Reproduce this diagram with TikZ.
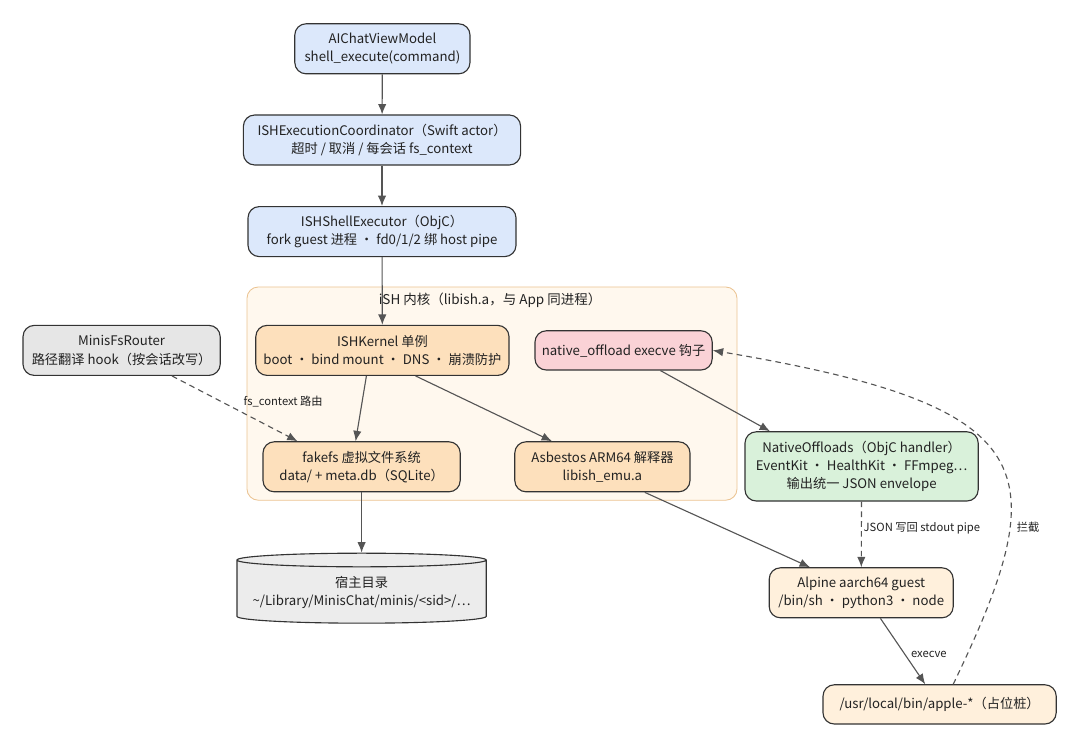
\documentclass[tikz,border=0pt]{standalone}
\usepackage{fontspec}
\setmainfont{Noto Sans CJK SC}
\usetikzlibrary{arrows.meta,positioning,calc,shapes.geometric,backgrounds}
\definecolor{ishBlue}{HTML}{DCE8FB}
\definecolor{ishCore}{HTML}{FDE0BC}
\definecolor{ishGuest}{HTML}{FFF0DC}
\definecolor{ishPink}{HTML}{FAD2D6}
\definecolor{ishGreen}{HTML}{D9F1DA}
\definecolor{ishGray}{HTML}{E6E6E6}
\definecolor{ishDisk}{HTML}{ECECEC}
\definecolor{ishBand}{HTML}{FFF8EE}
\definecolor{ishBandLine}{HTML}{EBC391}
\definecolor{ishLine}{HTML}{555555}
\definecolor{ishBorder}{HTML}{333333}
\definecolor{ishText}{HTML}{222222}
\tikzset{ish edge/.style={-{Latex[length=2.6mm,width=2.1mm]}, draw=ishLine, line width=0.8pt}}
\tikzset{ish dashed edge/.style={ish edge, dash pattern=on 4pt off 3pt}}
\tikzset{ish box/.style={draw=ishBorder, rounded corners=8pt, line width=0.8pt, align=center, inner sep=3pt, font=\fontsize{9.4}{13}\selectfont, text=ishText, minimum height=1.25cm}}
\tikzset{ish api/.style={ish box, fill=ishBlue}}
\tikzset{ish core/.style={ish box, fill=ishCore}}
\tikzset{ish guest/.style={ish box, fill=ishGuest}}
\tikzset{ish label/.style={font=\fontsize{8}{9}\selectfont, text=ishText, inner sep=1pt}}
\tikzset{ish band/.style={draw=ishBandLine, fill=ishBand, rounded corners=8pt, line width=0.6pt}}

\begin{document}
\begin{tikzpicture}[x=1cm,y=1cm]
		\useasboundingbox (0,0) rectangle (27,18.7);

		\node[ish api, minimum width=4.38cm] (chatvm) at (9.56,17.48) {AIChatViewModel\\shell\_execute(command)};
		\node[ish api, minimum width=6.93cm] (coord) at (9.55,15.2) {ISHExecutionCoordinator（Swift actor）\\超时 / 取消 / 每会话 fs\_context};
		\node[ish api, minimum width=6.7cm] (shellexec) at (9.55,12.91) {ISHShellExecutor（ObjC）\\fork guest 进程 · fd0/1/2 绑 host pipe};

		\begin{scope}[on background layer]
			\node[ish band, minimum width=12.25cm, minimum height=5.33cm] (core) at (12.3,8.86) {};
		\end{scope}
		\node[font=\fontsize{9.6}{11}\selectfont, text=ishText] (corename) at (12.25,11.2) {iSH 内核（libish.a，与 App 同进程）};

		\node[ish core, minimum width=6.33cm] (kernel) at (9.56,9.94) {ISHKernel 单例\\boot · bind mount · DNS · 崩溃防护};
		\node[ish box, fill=ishPink, minimum width=4.43cm, minimum height=0.98cm] (offload) at (15.59,9.94) {native\_offload execve 钩子};
		\node[ish box, fill=ishGray, minimum width=4.93cm] (router) at (3.04,9.94) {MinisFsRouter\\路径翻译 hook（按会话改写）};
		\node[ish core, minimum width=4.93cm] (fakefs) at (9.04,7.03) {fakefs 虚拟文件系统\\data/ + meta.db（SQLite）};
		\node[ish core, minimum width=4.38cm] (asbestos) at (15.06,7.03) {Asbestos ARM64 解释器\\libish\_emu.a};
		\node[ish box, fill=ishGreen, minimum width=5.83cm, minimum height=1.73cm] (natives) at (21.54,7.04) {NativeOffloads（ObjC handler）\\EventKit · HealthKit · FFmpeg…\\输出统一 JSON envelope};

		\node[cylinder, shape border rotate=90, aspect=0.06, draw=ishBorder, fill=ishDisk, line width=0.8pt, align=center, font=\fontsize{9.4}{13}\selectfont, text=ishText, minimum width=6.23cm, minimum height=1.75cm] (hostdir) at (9.04,3.88) {宿主目录\\\textasciitilde/Library/MinisChat/minis/<sid>/…};
		\node[ish guest, minimum width=4.6cm] (alpine) at (21.53,3.88) {Alpine aarch64 guest\\/bin/sh · python3 · node};
		\node[ish guest, minimum width=5.83cm, minimum height=0.98cm] (stub) at (23.49,1.09) {/usr/local/bin/apple-*（占位桩）};

		\draw[ish edge] (chatvm) -- (coord);
		\draw[ish edge] (coord) -- (shellexec);
		\draw[ish edge] (shellexec) -- (kernel);
		\draw[ish edge] ($(kernel.south)+(-0.4,0)$) -- ($(fakefs.north)+(-0.15,0)$);
		\draw[ish edge] ($(kernel.south)+(0.83,0)$) -- ($(asbestos.north)+(-1.26,0)$);
		\draw[ish dashed edge] ($(router.south)+(1.26,0)$) -- ($(fakefs.north)+(-1.6,0)$);
		\draw[ish edge] ($(offload.south)+(0.92,0)$) -- ($(natives.north)+(-2.29,0)$);
		\draw[ish edge] (fakefs) -- (hostdir);
		\draw[ish edge] ($(asbestos.south)+(1.06,0)$) -- ($(alpine.north)+(-1.28,0)$);
		\draw[ish dashed edge] (natives) -- (alpine);
		\draw[ish edge] ($(alpine.south)+(0.48,0)$) -- ($(stub.north)+(-0.36,0)$);
		\draw[ish dashed edge] ($(stub.north)+(0.34,0)$) .. controls +(2.6,5.4) and +(8.3,-1.4) .. (offload.east);

		\node[ish label] (routelbl) at (7.08,8.65) {fs\_context 路由};
		\node[ish label, anchor=west] (pipelbl) at (21.55,5.5) {JSON 写回 stdout pipe};
		\node[ish label] (hooklbl) at (25.7,5.53) {拦截};
		\node[ish label] (execlbl) at (23.22,2.35) {execve};
	\end{tikzpicture}
\end{document}
